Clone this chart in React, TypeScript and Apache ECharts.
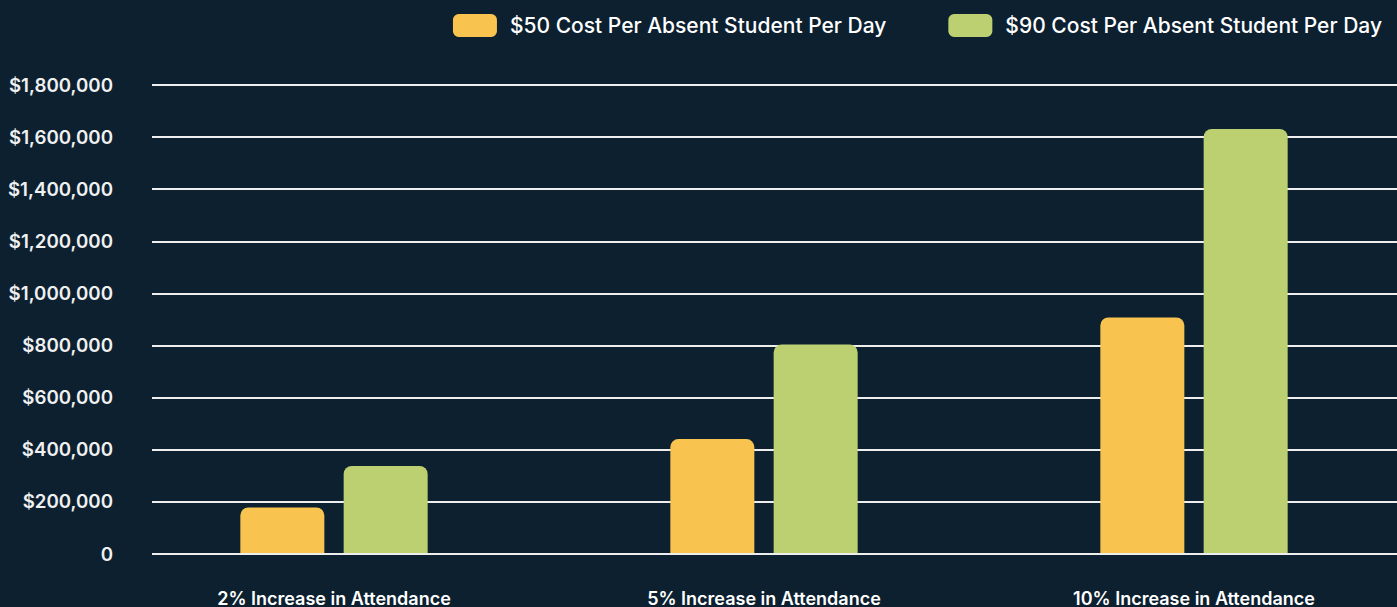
import React, { useEffect, useRef } from "react";
import * as echarts from "echarts";

const categories = ["2% Increase in Attendance", "5% Increase in Attendance", "10% Increase in Attendance"];
const seriesNames = ["$50 Cost Per Absent Student Per Day", "$90 Cost Per Absent Student Per Day"];
const cost50 = [175000, 438000, 906000];
const cost90 = [335000, 802000, 1631000];
const yMin = 0;
const yMax = 1800000;
const yStep = 200000;

const BG = "#0c2030";
const YELLOW = "#f8c44f";
const GREEN = "#bcd072";
const FONT = "Inter, 'Noto Sans', sans-serif";
const EXTRA = 12;

export default function App() {
  const ref = useRef<HTMLDivElement>(null);
  useEffect(() => {
    if (!ref.current) return;
    const chart = echarts.init(ref.current, null, { renderer: "svg" });
    chart.setOption({
      animation: false,
      backgroundColor: BG,
      textStyle: { fontFamily: FONT },
      legend: {
        top: 9,
        right: 10 + EXTRA,
        itemWidth: 44,
        itemHeight: 23,
        itemGap: 62,
        icon: "roundRect",
        textStyle: { color: "#ffffff", fontSize: 21, fontWeight: 500, fontFamily: FONT, padding: [3, 0, 0, 8] },
        data: seriesNames,
      },
      grid: [
        { left: 152, right: EXTRA, top: 85, bottom: 53 },
        { left: 119, right: 0, top: 85, bottom: 53 },
      ],
      xAxis: [
        { type: "category", gridIndex: 0, data: categories, show: false },
        {
          type: "category",
          gridIndex: 1,
          data: categories,
          axisLine: { show: false },
          axisTick: { show: false },
          axisLabel: { color: "#ffffff", fontSize: 18, fontWeight: 600, fontFamily: FONT, margin: 36 },
        },
      ],
      yAxis: [
        {
          type: "value",
          gridIndex: 0,
          min: yMin,
          max: yMax,
          interval: yStep,
          axisLine: { show: false },
          axisTick: { show: false },
          axisLabel: {
            color: "#f0f0f0",
            fontSize: 18.7,
            fontWeight: 600,
            fontFamily: FONT,
            margin: 39,
            formatter: (v: number) => (v === 0 ? "0" : "$" + v.toLocaleString("en-US")),
          },
          splitLine: { lineStyle: { color: "#eeeeee", width: 2 } },
        },
        { type: "value", gridIndex: 1, min: yMin, max: yMax, interval: yStep, show: false, splitLine: { show: false } },
      ],
      series: [
        {
          name: seriesNames[0],
          type: "bar",
          xAxisIndex: 1,
          yAxisIndex: 1,
          data: cost50,
          barWidth: 84,
          barGap: "23%",
          itemStyle: { color: YELLOW, borderRadius: [8, 8, 0, 0] },
        },
        {
          name: seriesNames[1],
          type: "bar",
          xAxisIndex: 1,
          yAxisIndex: 1,
          data: cost90,
          barWidth: 84,
          barGap: "23%",
          itemStyle: { color: GREEN, borderRadius: [8, 8, 0, 0] },
        },
      ],
    });
    return () => chart.dispose();
  }, []);
  return (
    <div style={{ position: "absolute", left: 0, top: 0, width: 1397, height: 607, overflow: "hidden", background: BG }}>
      <div ref={ref} style={{ position: "absolute", left: 0, top: 0, width: 1397 + EXTRA, height: 607 }} />
    </div>
  );
}
